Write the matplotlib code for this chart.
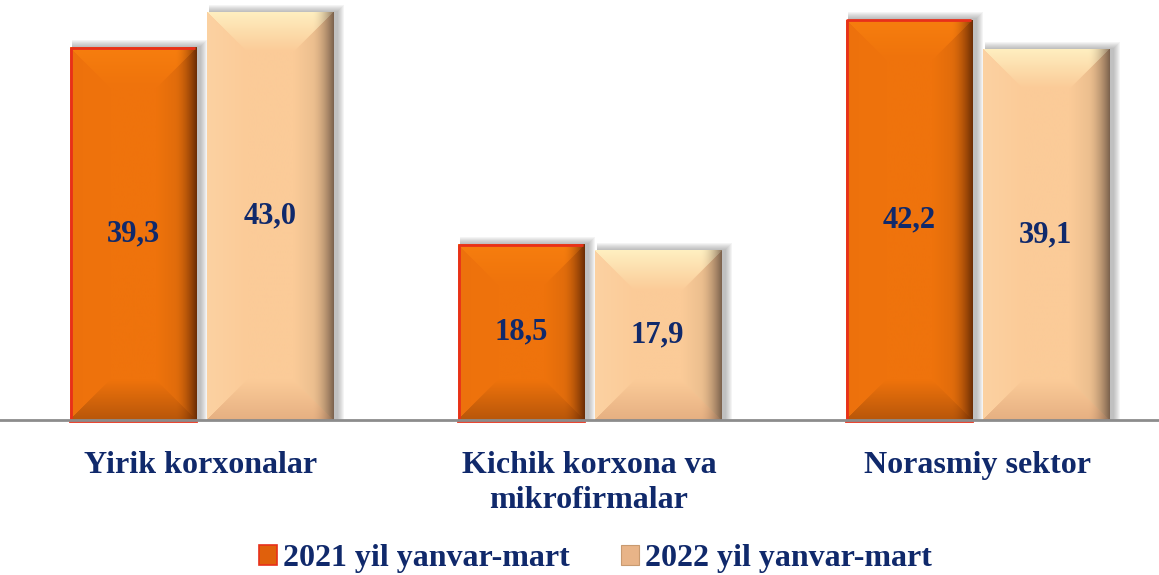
import numpy as np
import matplotlib
matplotlib.use("Agg")
import matplotlib.pyplot as plt
from matplotlib.patches import Patch, Rectangle
from matplotlib.colors import to_rgb

# data
categories = ["Yirik korxonalar", "Kichik korxona va\nmikrofirmalar", "Norasmiy sektor"]
series_names = ["2021 yil yanvar-mart", "2022 yil yanvar-mart"]
vals_2021 = [39.3, 18.5, 42.2]
vals_2022 = [43.0, 17.9, 39.1]

navy = "#10296B"
face_cols = ["#EF730C", "#FBCB98"]
top_cols = ["#F8800E", "#FFF6C8"]
bottom_cols = ["#A04A08", "#DDA478"]
left_cols = ["#EC700E", "#FDD8AC"]
dark_cols = ["#5A2204", "#6E5646"]
edge_red = "#E8301A"

plt.rcParams["font.family"] = ["Liberation Serif", "DejaVu Serif"]
plt.rcParams["font.weight"] = "bold"

fig = plt.figure(figsize=(11.59, 5.75), dpi=100)
ax = fig.add_axes([0, 0.2696, 1, 0.7304])
ax.set_xlim(-0.518, 2.469)
ax.set_ylim(0, 44.26)

width = 0.325
offs = [-0.175, 0.177]
x = np.arange(len(categories))


def px_per_unit():
    p0 = ax.transData.transform((0, 0))
    p1 = ax.transData.transform((1, 1))
    return p1[0] - p0[0], p1[1] - p0[1]


def bevel_image(Wpx, Hpx, k, bev=40):
    nx, ny = max(int(Wpx), 2), max(int(Hpx), 2)
    u = (np.arange(nx) + 0.5)[None, :] * np.ones((ny, 1))
    v = (np.arange(ny) + 0.5)[:, None] * np.ones((1, nx))  # from top
    dl, dr = u, nx - u
    dt, db = v, ny - v
    d = np.stack([dt, dr, db, dl])
    idx = np.argmin(d, axis=0)
    dmin = np.min(d, axis=0)
    face = np.array(to_rgb(face_cols[k]))
    img = face[None, None, :] * np.ones((ny, nx, 1))
    # bevel regions: soft blend toward the edge colour
    w = np.clip(1.0 - dmin / bev, 0, 1)
    amt = {0: 0.85, 2: 0.7, 3: 0.5}
    cols = {0: top_cols[k], 2: bottom_cols[k], 3: left_cols[k]}
    for j in (0, 2, 3):
        m = (idx == j)[..., None]
        ww = (w * amt[j])[..., None]
        img = np.where(m, img * (1 - ww) + np.array(to_rgb(cols[j])) * ww, img)
    # darker towards the right edge
    g = np.clip(1.0 - dr / 22.0, 0, 1) ** 1.8
    g = g * 0.8
    img = img * (1 - g[..., None]) + np.array(to_rgb(dark_cols[k])) * g[..., None]
    # subtle darkening on right bevel
    m = (idx == 1)[..., None]
    img = np.where(m, img * (1 - 0.12 * w[..., None]), img)
    return np.clip(img, 0, 1)


sx, sy = px_per_unit()
for k, vals in enumerate([vals_2021, vals_2022]):
    bars = ax.bar(x + offs[k], vals, width, color=face_cols[k], zorder=2, linewidth=0)
    for b, v in zip(bars, vals):
        x0 = b.get_x()
        # soft shadow
        for s in range(7):
            ax.add_patch(Rectangle((x0 + 2 / sx, -0.2), width + (3 + s) / sx, v + (3 + s) / sy,
                                   facecolor="#505050", alpha=0.06, edgecolor="none", zorder=1))
        img = bevel_image(width * sx, v * sy, k)
        im = ax.imshow(img, extent=[x0, x0 + width, 0, v], aspect="auto",
                       interpolation="bilinear", zorder=2.5)
        im.set_clip_path(b)
        if k == 0:
            ax.plot([x0 + 1 / sx, x0 + 1 / sx, x0 + width - 1 / sx], [-0.15, v - 0.1, v - 0.1],
                    color=edge_red, lw=2, zorder=2.6, solid_capstyle="butt")
            ax.plot([x0, x0 + width], [-0.15, -0.15], color=edge_red, lw=2, zorder=2.6,
                    clip_on=False)
        ax.text(x0 + width / 2, v / 2, f"{v:.1f}".replace(".", ","), ha="center", va="center",
                fontsize=22, fontweight="bold", color=navy, zorder=3)

ax.set_xlim(-0.518, 2.469)
ax.set_ylim(0, 44.26)
ax.set_xticks(x)
ax.set_xticklabels(categories, fontsize=23, fontweight="bold", color=navy, linespacing=1.3)
ax.tick_params(axis="x", length=0, pad=22)
ax.set_yticks([])
for s in ["top", "right", "left"]:
    ax.spines[s].set_visible(False)
ax.spines["bottom"].set_color("#8C8C8C")
ax.spines["bottom"].set_linewidth(2)
ax.spines["bottom"].set_zorder(4)

handles = [Patch(facecolor="#E0600C", edgecolor=edge_red, linewidth=1.2),
           Patch(facecolor="#E8B488", edgecolor="#C89A70", linewidth=0.8)]
fig.legend(handles, series_names, loc="lower center", bbox_to_anchor=(0.514, 0.0), ncol=2,
           frameon=False, prop={"size": 23, "weight": "bold"}, labelcolor=navy,
           handlelength=0.55, handleheight=0.55, handletextpad=0.2, columnspacing=1.6,
           borderaxespad=0.0, borderpad=0.05)

fig.savefig("out.png", dpi=100)
